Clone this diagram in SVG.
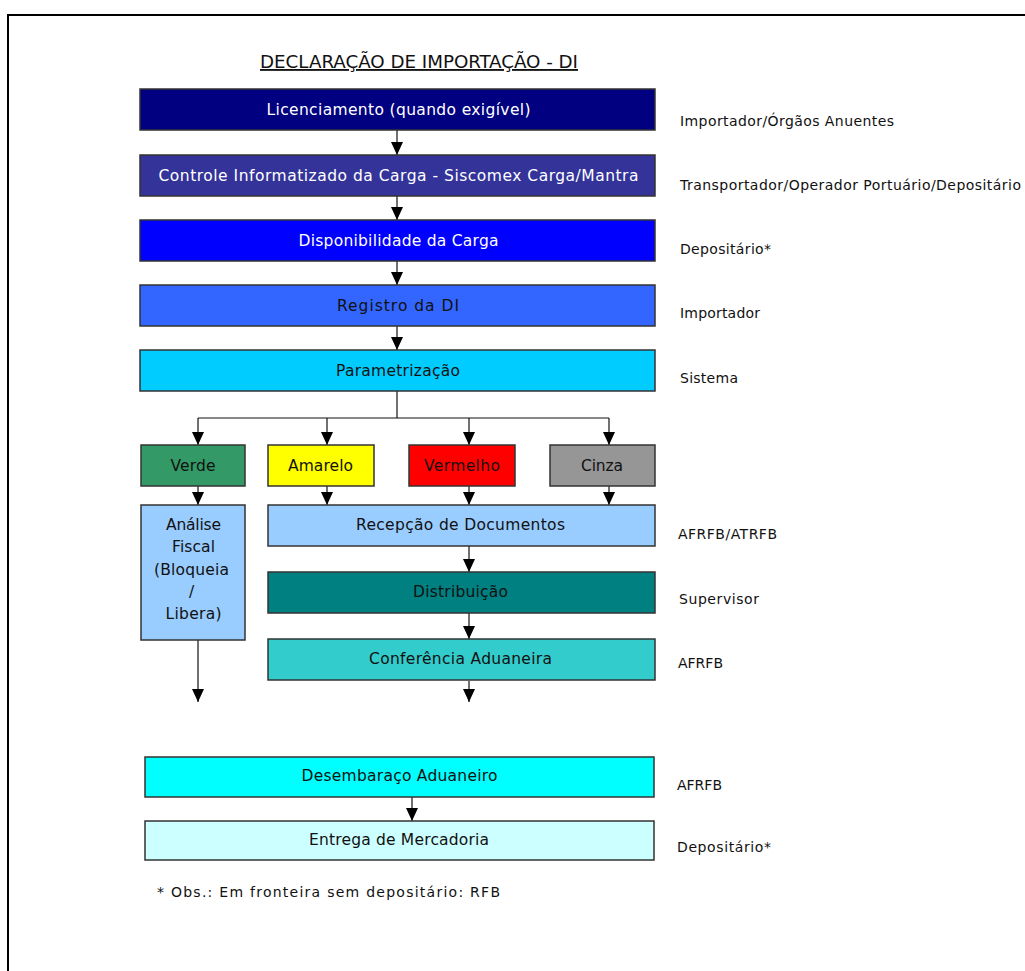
<svg xmlns="http://www.w3.org/2000/svg" width="1025" height="971" viewBox="0 0 1025 971">
  <style>
    .box { stroke: #333333; stroke-width: 1.5; }
    .t { font-family: "DejaVu Sans", Verdana, sans-serif; font-size: 15.5px; text-anchor: middle; dominant-baseline: central; fill: #111111; }
    .w { fill: #ffffff; }
    .side { font-family: "DejaVu Sans", Verdana, sans-serif; font-size: 14px; fill: #111111; dominant-baseline: central; }
    .title { font-family: "DejaVu Sans Condensed", "DejaVu Sans", sans-serif; font-size: 18.5px; text-anchor: middle; fill: #111111; text-decoration: underline; }
    .con { stroke: #111111; stroke-width: 1.2; fill: none; }
  </style>
  <defs>
    <marker id="head" markerUnits="userSpaceOnUse" markerWidth="13" markerHeight="12" viewBox="0 0 13 12" refX="13" refY="6" orient="auto">
      <path d="M0,0 L13,6 L0,12 Z" fill="#000000"/>
    </marker>
  </defs>

  <rect width="1025" height="971" fill="#ffffff"/>
  <!-- page frame -->
  <path d="M8,975 L8,15 L1030,15" fill="none" stroke="#000000" stroke-width="2"/>

  <text class="title" x="419" y="68" textLength="318" lengthAdjust="spacingAndGlyphs">DECLARAÇÃO DE IMPORTAÇÃO - DI</text>

  <!-- connectors -->
  <g id="connectors">
    <line class="con" x1="397" y1="130" x2="397" y2="155" marker-end="url(#head)"/>
    <line class="con" x1="397" y1="196" x2="397" y2="220" marker-end="url(#head)"/>
    <line class="con" x1="397" y1="261" x2="397" y2="285" marker-end="url(#head)"/>
    <line class="con" x1="397" y1="326" x2="397" y2="350" marker-end="url(#head)"/>
    <polyline class="con" points="397,391 397,418"/>
    <polyline class="con" points="198,418 609,418"/>
    <line class="con" x1="198" y1="418" x2="198" y2="445" marker-end="url(#head)"/>
    <line class="con" x1="327" y1="418" x2="327" y2="445" marker-end="url(#head)"/>
    <line class="con" x1="469" y1="418" x2="469" y2="445" marker-end="url(#head)"/>
    <line class="con" x1="609" y1="418" x2="609" y2="445" marker-end="url(#head)"/>
    <line class="con" x1="198" y1="486" x2="198" y2="505" marker-end="url(#head)"/>
    <line class="con" x1="327" y1="486" x2="327" y2="505" marker-end="url(#head)"/>
    <line class="con" x1="469" y1="486" x2="469" y2="505" marker-end="url(#head)"/>
    <line class="con" x1="609" y1="486" x2="609" y2="505" marker-end="url(#head)"/>
    <line class="con" x1="469" y1="546" x2="469" y2="572" marker-end="url(#head)"/>
    <line class="con" x1="469" y1="613" x2="469" y2="639" marker-end="url(#head)"/>
    <line class="con" x1="198" y1="640" x2="198" y2="702" marker-end="url(#head)"/>
    <line class="con" x1="469" y1="681" x2="469" y2="702" marker-end="url(#head)"/>
    <line class="con" x1="412" y1="797" x2="412" y2="821" marker-end="url(#head)"/>
  </g>

  <g id="licenciamento">
    <rect class="box" x="140" y="89" width="515" height="41" fill="#000080"/>
    <text class="t w" x="398.5" y="110" textLength="264">Licenciamento (quando exigível)</text>
  </g>
  <g id="controle">
    <rect class="box" x="140" y="155" width="515" height="41" fill="#333399"/>
    <text class="t w" x="398.5" y="176" textLength="480">Controle Informatizado da Carga - Siscomex Carga/Mantra</text>
  </g>
  <g id="disponibilidade">
    <rect class="box" x="140" y="220" width="515" height="41" fill="#0000ff"/>
    <text class="t w" x="398.5" y="241" textLength="200">Disponibilidade da Carga</text>
  </g>
  <g id="registro">
    <rect class="box" x="140" y="285" width="515" height="41" fill="#3366ff"/>
    <text class="t" x="398" y="306" textLength="122">Registro da DI</text>
  </g>
  <g id="parametrizacao">
    <rect class="box" x="140" y="350" width="515" height="41" fill="#00ccff"/>
    <text class="t" x="398" y="371" textLength="124">Parametrização</text>
  </g>

  <g id="verde">
    <rect class="box" x="141" y="445" width="104" height="41" fill="#339966"/>
    <text class="t" x="193" y="466" textLength="45">Verde</text>
  </g>
  <g id="amarelo">
    <rect class="box" x="268" y="445" width="106" height="41" fill="#ffff00"/>
    <text class="t" x="320.5" y="466" textLength="65">Amarelo</text>
  </g>
  <g id="vermelho">
    <rect class="box" x="409" y="445" width="106" height="41" fill="#ff0000"/>
    <text class="t" x="462" y="466" textLength="76">Vermelho</text>
  </g>
  <g id="cinza">
    <rect class="box" x="550" y="445" width="105" height="41" fill="#969696"/>
    <text class="t" x="602" y="466" textLength="42">Cinza</text>
  </g>

  <g id="analise-fiscal">
    <rect class="box" x="141" y="505" width="104" height="135" fill="#99ccff"/>
    <text class="t" x="193.5" y="525" textLength="55">Análise</text>
    <text class="t" x="193.5" y="547" textLength="43">Fiscal</text>
    <text class="t" x="191.5" y="570" textLength="75">(Bloqueia</text>
    <text class="t" x="191.5" y="592">/</text>
    <text class="t" x="193.5" y="614" textLength="56">Libera)</text>
  </g>

  <g id="recepcao">
    <rect class="box" x="268" y="505" width="387" height="41" fill="#99ccff"/>
    <text class="t" x="460.5" y="525" textLength="209">Recepção de Documentos</text>
  </g>
  <g id="distribuicao">
    <rect class="box" x="268" y="572" width="387" height="41" fill="#008080"/>
    <text class="t" x="460.5" y="592" textLength="95">Distribuição</text>
  </g>
  <g id="conferencia">
    <rect class="box" x="268" y="639" width="387" height="41" fill="#33cccc"/>
    <text class="t" x="460.5" y="659" textLength="183">Conferência Aduaneira</text>
  </g>

  <g id="desembaraco">
    <rect class="box" x="145" y="757" width="509" height="40" fill="#00ffff"/>
    <text class="t" x="399.5" y="776" textLength="196">Desembaraço Aduaneiro</text>
  </g>
  <g id="entrega">
    <rect class="box" x="145" y="821" width="509" height="39" fill="#ccffff"/>
    <text class="t" x="399" y="840" textLength="180">Entrega de Mercadoria</text>
  </g>

  <!-- responsible parties -->
  <g id="responsaveis">
    <text class="side" x="680" y="121" textLength="214">Importador/Órgãos Anuentes</text>
    <text class="side" x="680" y="185" textLength="341">Transportador/Operador Portuário/Depositário</text>
    <text class="side" x="680" y="249" textLength="91">Depositário*</text>
    <text class="side" x="680" y="313" textLength="80">Importador</text>
    <text class="side" x="680" y="378" textLength="58">Sistema</text>
    <text class="side" x="678" y="534" textLength="99">AFRFB/ATRFB</text>
    <text class="side" x="679" y="599" textLength="80">Supervisor</text>
    <text class="side" x="678" y="663" textLength="45">AFRFB</text>
    <text class="side" x="677" y="785" textLength="45">AFRFB</text>
    <text class="side" x="677" y="847" textLength="94">Depositário*</text>
  </g>

  <text class="side" x="157" y="892" textLength="343" fill="#222222">* Obs.: Em fronteira sem depositário: RFB</text>
</svg>
